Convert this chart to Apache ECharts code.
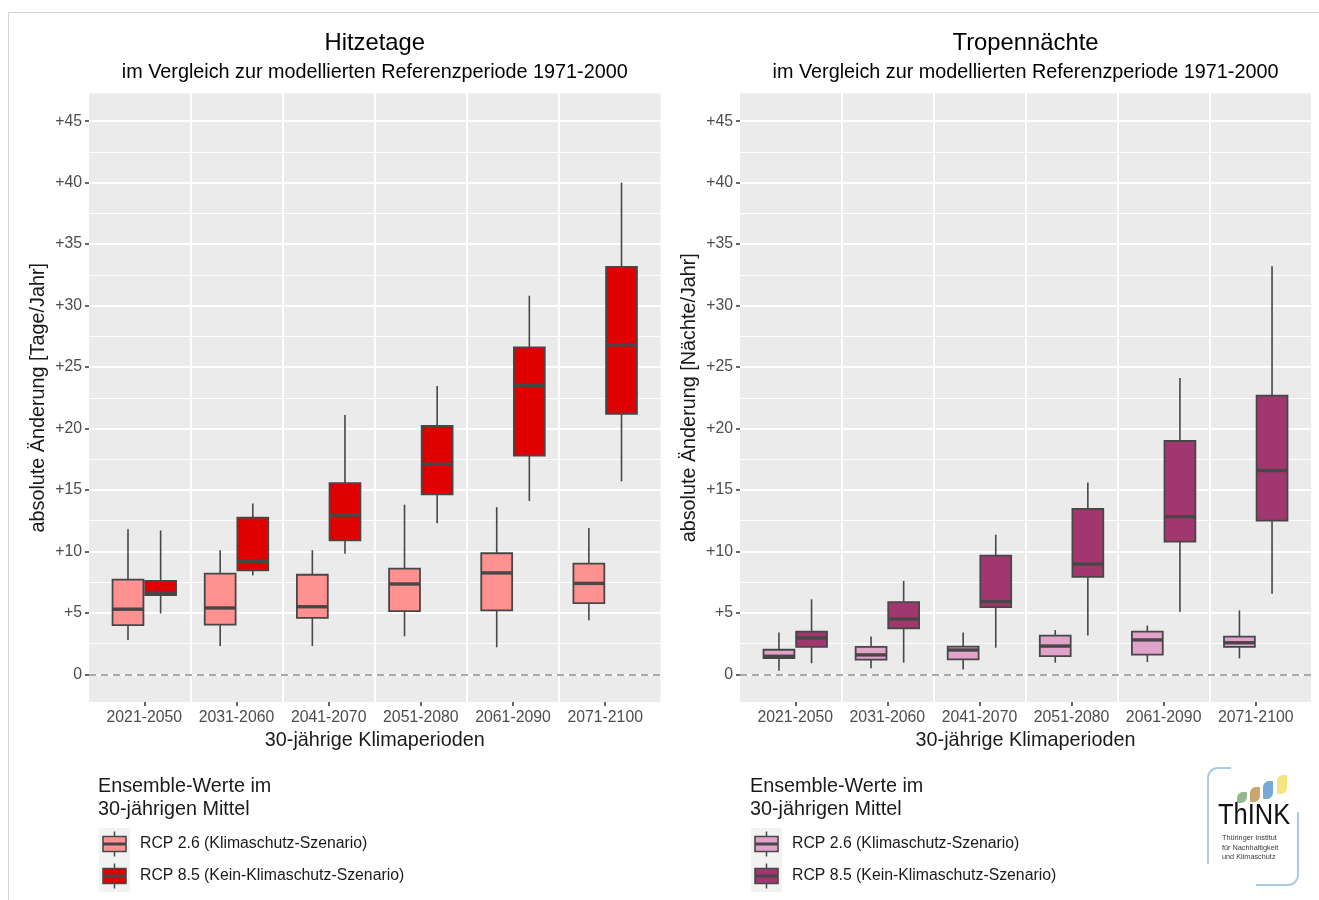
<!DOCTYPE html>
<html>
<head>
<meta charset="utf-8">
<title>Hitzetage und Tropennächte</title>
<script src="https://cdn.jsdelivr.net/npm/echarts@6/dist/echarts.min.js"></script>
<style>
  html, body { margin: 0; padding: 0; background: #ffffff; }
  #chart { width: 1319px; height: 900px; }
</style>
</head>
<body>
<div id="chart"></div>
<script>
// 30-year climate periods on the x axis
const periods = ['2021-2050', '2031-2060', '2041-2070', '2051-2080', '2061-2090', '2071-2100'];

// Ensemble statistics per period: [lower whisker, Q1, median, Q3, upper whisker]
const hitzeRcp26 = [
  [2.8, 4.0, 5.3, 7.7, 11.8],
  [2.3, 4.05, 5.4, 8.2, 10.1],
  [2.3, 4.6, 5.5, 8.1, 10.1],
  [3.1, 5.15, 7.35, 8.6, 13.8],
  [2.2, 5.2, 8.25, 9.85, 13.6],
  [4.4, 5.8, 7.4, 9.0, 11.9]
];
const hitzeRcp85 = [
  [4.95, 6.45, 6.65, 7.6, 11.7],
  [8.05, 8.45, 9.2, 12.75, 13.9],
  [9.8, 10.9, 12.95, 15.55, 21.1],
  [12.3, 14.65, 17.1, 20.2, 23.45],
  [14.1, 17.8, 23.5, 26.6, 30.8],
  [15.7, 21.2, 26.8, 33.15, 40.0]
];
const tropenRcp26 = [
  [0.3, 1.33, 1.47, 2.0, 3.4],
  [0.5, 1.2, 1.58, 2.23, 3.07],
  [0.4, 1.22, 1.98, 2.26, 3.4],
  [0.95, 1.48, 2.3, 3.15, 3.6],
  [1.0, 1.6, 2.8, 3.47, 3.97],
  [1.3, 2.24, 2.57, 3.06, 5.2]
];
const tropenRcp85 = [
  [0.9, 2.23, 2.96, 3.48, 6.1],
  [0.95, 3.75, 4.5, 5.87, 7.6],
  [2.17, 5.46, 5.92, 9.65, 11.36],
  [3.15, 7.93, 8.97, 13.46, 15.6],
  [5.1, 10.8, 12.83, 18.98, 24.1],
  [6.56, 12.5, 16.58, 22.67, 33.2]
];

// Axis ticks and gridlines
const yTicks = [0, 5, 10, 15, 20, 25, 30, 35, 40, 45];
const yMinorTicks = [2.5, 7.5, 12.5, 17.5, 22.5, 27.5, 32.5, 37.5, 42.5];
const xTicks = [0, 1, 2, 3, 4, 5];
const periodSeparators = [0.5, 1.5, 2.5, 3.5, 4.5];

const FONT = '"Liberation Sans", Arial, Helvetica, sans-serif';
const EDGE = '#474747';
const COLORS = {
  hitze26: '#FF9191',
  hitze85: '#E00000',
  tropen26: '#E2A3CA',
  tropen85: '#A2376F'
};
const DODGE = 0.177;      // offset of each scenario box from the period centre
const BOX_WIDTH = 0.335;  // box width in period units

const PANEL_TOP = 93.5;
const PANEL_HEIGHT = 608.5;
const panels = [
  { left: 89, width: 571.5 },
  { left: 740, width: 571 }
];

function boxRenderer(offset, fill) {
  return function (params, api) {
    const i = api.value(0);
    const band = api.size([1, 0])[0];
    const cx = api.coord([i + offset, 0])[0];
    const half = band * BOX_WIDTH / 2;
    const y = [1, 2, 3, 4, 5].map(function (d) { return api.coord([i, api.value(d)])[1]; });
    const whisker = { stroke: EDGE, lineWidth: 1.6 };
    return {
      type: 'group',
      children: [
        { type: 'line', shape: { x1: cx, y1: y[0], x2: cx, y2: y[1] }, style: whisker },
        { type: 'line', shape: { x1: cx, y1: y[3], x2: cx, y2: y[4] }, style: whisker },
        { type: 'rect', shape: { x: cx - half, y: y[3], width: half * 2, height: y[1] - y[3] },
          style: { fill: fill, stroke: EDGE, lineWidth: 1.8 } },
        { type: 'line', shape: { x1: cx - half, y1: y[2], x2: cx + half, y2: y[2] },
          style: { stroke: EDGE, lineWidth: 3.4 } }
      ]
    };
  };
}

function toRows(stats) {
  return stats.map(function (s, i) { return [i].concat(s); });
}

function gridlineSeries(idx) {
  const lines = [];
  yMinorTicks.forEach(function (v) { lines.push({ yAxis: v, lineStyle: { width: 1 } }); });
  yTicks.forEach(function (v) { lines.push({ yAxis: v, lineStyle: { width: 2 } }); });
  periodSeparators.forEach(function (v) { lines.push({ xAxis: v, lineStyle: { width: 2 } }); });
  lines.push({ yAxis: 0, lineStyle: { color: '#A9A9A9', width: 2, type: [7, 5] } });
  return {
    type: 'line', xAxisIndex: idx, yAxisIndex: idx, data: [], silent: true, z: 1,
    markLine: {
      z: 1, silent: true, animation: false, symbol: ['none', 'none'],
      label: { show: false },
      lineStyle: { color: '#FFFFFF', type: 'solid' },
      emphasis: { disabled: true },
      data: lines
    }
  };
}

function boxSeries(idx, name, stats, offset, fill) {
  return {
    type: 'custom', name: name, xAxisIndex: idx, yAxisIndex: idx, z: 6,
    data: toRows(stats),
    encode: { x: 0, y: [1, 2, 3, 4, 5] },
    renderItem: boxRenderer(offset, fill)
  };
}

function xAxisFor(idx) {
  return {
    type: 'value', gridIndex: idx, min: -0.6, max: 5.6, position: 'bottom',
    axisLine: { show: false, onZero: false }, splitLine: { show: false },
    axisTick: { customValues: xTicks, length: 4, lineStyle: { color: '#333333', width: 1.5 } },
    axisLabel: {
      customValues: xTicks, margin: 8, color: '#4D4D4D', fontSize: 15.8, fontFamily: FONT,
      formatter: function (v) { return periods[Math.round(v)]; }
    },
    name: '30-jährige Klimaperioden', nameLocation: 'middle', nameGap: 28,
    nameTextStyle: { fontSize: 19.8, color: '#1A1A1A', fontFamily: FONT }
  };
}

function yAxisFor(idx, name) {
  return {
    type: 'value', gridIndex: idx, min: -2.25, max: 47.25, position: 'left',
    axisLine: { show: false, onZero: false }, splitLine: { show: false },
    axisTick: { customValues: yTicks, length: 4, lineStyle: { color: '#333333', width: 1.5 } },
    axisLabel: {
      customValues: yTicks, margin: 7, color: '#4D4D4D', fontSize: 15.8, fontFamily: FONT,
      formatter: function (v) { return v === 0 ? '0' : '+' + v; }
    },
    name: name, nameLocation: 'middle', nameGap: 40,
    nameTextStyle: { fontSize: 19.8, color: '#1A1A1A', fontFamily: FONT }
  };
}

function panelTitle(cx, title) {
  return [
    { type: 'text', style: { text: title, x: cx, y: 43, align: 'center', verticalAlign: 'middle',
      font: '23.8px ' + FONT, fill: '#000000' } },
    { type: 'text', style: { text: 'im Vergleich zur modellierten Referenzperiode 1971-2000', x: cx, y: 73,
      align: 'center', verticalAlign: 'middle', font: '19.8px ' + FONT, fill: '#000000' } }
  ];
}

function legendKey(x, y, fill) {
  // boxplot glyph on a light key background
  return [
    { type: 'rect', shape: { x: x, y: y, width: 31, height: 32 }, style: { fill: '#F2F2F2' } },
    { type: 'line', shape: { x1: x + 15.5, y1: y + 3.5, x2: x + 15.5, y2: y + 28.5 },
      style: { stroke: EDGE, lineWidth: 1.5 } },
    { type: 'rect', shape: { x: x + 4, y: y + 8.5, width: 23, height: 15 },
      style: { fill: fill, stroke: EDGE, lineWidth: 1.6 } },
    { type: 'line', shape: { x1: x + 4, y1: y + 16, x2: x + 27, y2: y + 16 },
      style: { stroke: EDGE, lineWidth: 3 } }
  ];
}

function legendBlock(x, fill26, fill85) {
  const items = [
    { type: 'text', style: { text: 'Ensemble-Werte im', x: x, y: 787, verticalAlign: 'middle',
      font: '19.8px ' + FONT, fill: '#1A1A1A' } },
    { type: 'text', style: { text: '30-jährigen Mittel', x: x, y: 810, verticalAlign: 'middle',
      font: '19.8px ' + FONT, fill: '#1A1A1A' } },
    { type: 'text', style: { text: 'RCP 2.6 (Klimaschutz-Szenario)', x: x + 42, y: 844, verticalAlign: 'middle',
      font: '15.8px ' + FONT, fill: '#1A1A1A' } },
    { type: 'text', style: { text: 'RCP 8.5 (Kein-Klimaschutz-Szenario)', x: x + 42, y: 876, verticalAlign: 'middle',
      font: '15.8px ' + FONT, fill: '#1A1A1A' } }
  ];
  return items.concat(legendKey(x + 1, 828, fill26), legendKey(x + 1, 860, fill85));
}

function logo() {
  const frame = { stroke: '#A8CBEA', lineWidth: 2, fill: null };
  return [
    { type: 'line', shape: { x1: 1218, y1: 768, x2: 1231, y2: 768 }, style: frame },
    { type: 'arc', shape: { cx: 1218, cy: 778, r: 10, startAngle: Math.PI, endAngle: Math.PI * 1.5, clockwise: true }, style: frame },
    { type: 'line', shape: { x1: 1208, y1: 778, x2: 1208, y2: 864 }, style: frame },
    { type: 'line', shape: { x1: 1298, y1: 812, x2: 1298, y2: 875 }, style: frame },
    { type: 'arc', shape: { cx: 1288, cy: 875, r: 10, startAngle: 0, endAngle: Math.PI / 2, clockwise: true }, style: frame },
    { type: 'line', shape: { x1: 1288, y1: 885, x2: 1256, y2: 885 }, style: frame },
    { type: 'rect', shape: { x: 1237, y: 792, width: 10, height: 11, r: [6, 1, 6, 1] }, style: { fill: '#93B88E' } },
    { type: 'rect', shape: { x: 1250, y: 787, width: 10, height: 15, r: [6, 1, 6, 1] }, style: { fill: '#CBA46F' } },
    { type: 'rect', shape: { x: 1263, y: 781, width: 10, height: 18, r: [6, 1, 6, 1] }, style: { fill: '#77A9D8' } },
    { type: 'rect', shape: { x: 1277, y: 775, width: 10, height: 19, r: [6, 1, 6, 1] }, style: { fill: '#F4E37E' } },
    { type: 'text', x: 1218, y: 816, scaleX: 0.85, style: { text: 'ThINK', x: 0, y: 0, verticalAlign: 'middle',
      font: '30px ' + FONT, fill: '#111111' } },
    { type: 'text', style: { text: 'Thüringer Institut', x: 1222, y: 838, verticalAlign: 'middle', font: '7.3px ' + FONT, fill: '#3A3A3A' } },
    { type: 'text', style: { text: 'für Nachhaltigkeit', x: 1222, y: 847.5, verticalAlign: 'middle', font: '7.3px ' + FONT, fill: '#3A3A3A' } },
    { type: 'text', style: { text: 'und Klimaschutz', x: 1222, y: 857, verticalAlign: 'middle', font: '7.3px ' + FONT, fill: '#3A3A3A' } }
  ];
}

const chart = echarts.init(document.getElementById('chart'), null, { renderer: 'canvas' });

const option = {
  animation: false,
  backgroundColor: '#FFFFFF',
  textStyle: { fontFamily: FONT },
  grid: panels.map(function (p) {
    return { left: p.left, top: PANEL_TOP, width: p.width, height: PANEL_HEIGHT,
      show: true, backgroundColor: '#EBEBEB', borderWidth: 0, containLabel: false };
  }),
  xAxis: [xAxisFor(0), xAxisFor(1)],
  yAxis: [yAxisFor(0, 'absolute Änderung [Tage/Jahr]'), yAxisFor(1, 'absolute Änderung [Nächte/Jahr]')],
  series: [
    gridlineSeries(0),
    gridlineSeries(1),
    boxSeries(0, 'RCP 2.6 (Klimaschutz-Szenario)', hitzeRcp26, -DODGE, COLORS.hitze26),
    boxSeries(0, 'RCP 8.5 (Kein-Klimaschutz-Szenario)', hitzeRcp85, DODGE, COLORS.hitze85),
    boxSeries(1, 'RCP 2.6 (Klimaschutz-Szenario)', tropenRcp26, -DODGE, COLORS.tropen26),
    boxSeries(1, 'RCP 8.5 (Kein-Klimaschutz-Szenario)', tropenRcp85, DODGE, COLORS.tropen85)
  ],
  graphic: {
    elements: [
      { type: 'rect', z: -10, silent: true, shape: { x: 8.5, y: 12.5, width: 1400, height: 1000 },
        style: { fill: null, stroke: '#D2D2D2', lineWidth: 1 } }
    ].concat(
      panelTitle(374.75, 'Hitzetage'),
      panelTitle(1025.5, 'Tropennächte'),
      legendBlock(98, COLORS.hitze26, COLORS.hitze85),
      legendBlock(750, COLORS.tropen26, COLORS.tropen85),
      logo()
    )
  }
};

chart.setOption(option);
</script>
</body>
</html>
